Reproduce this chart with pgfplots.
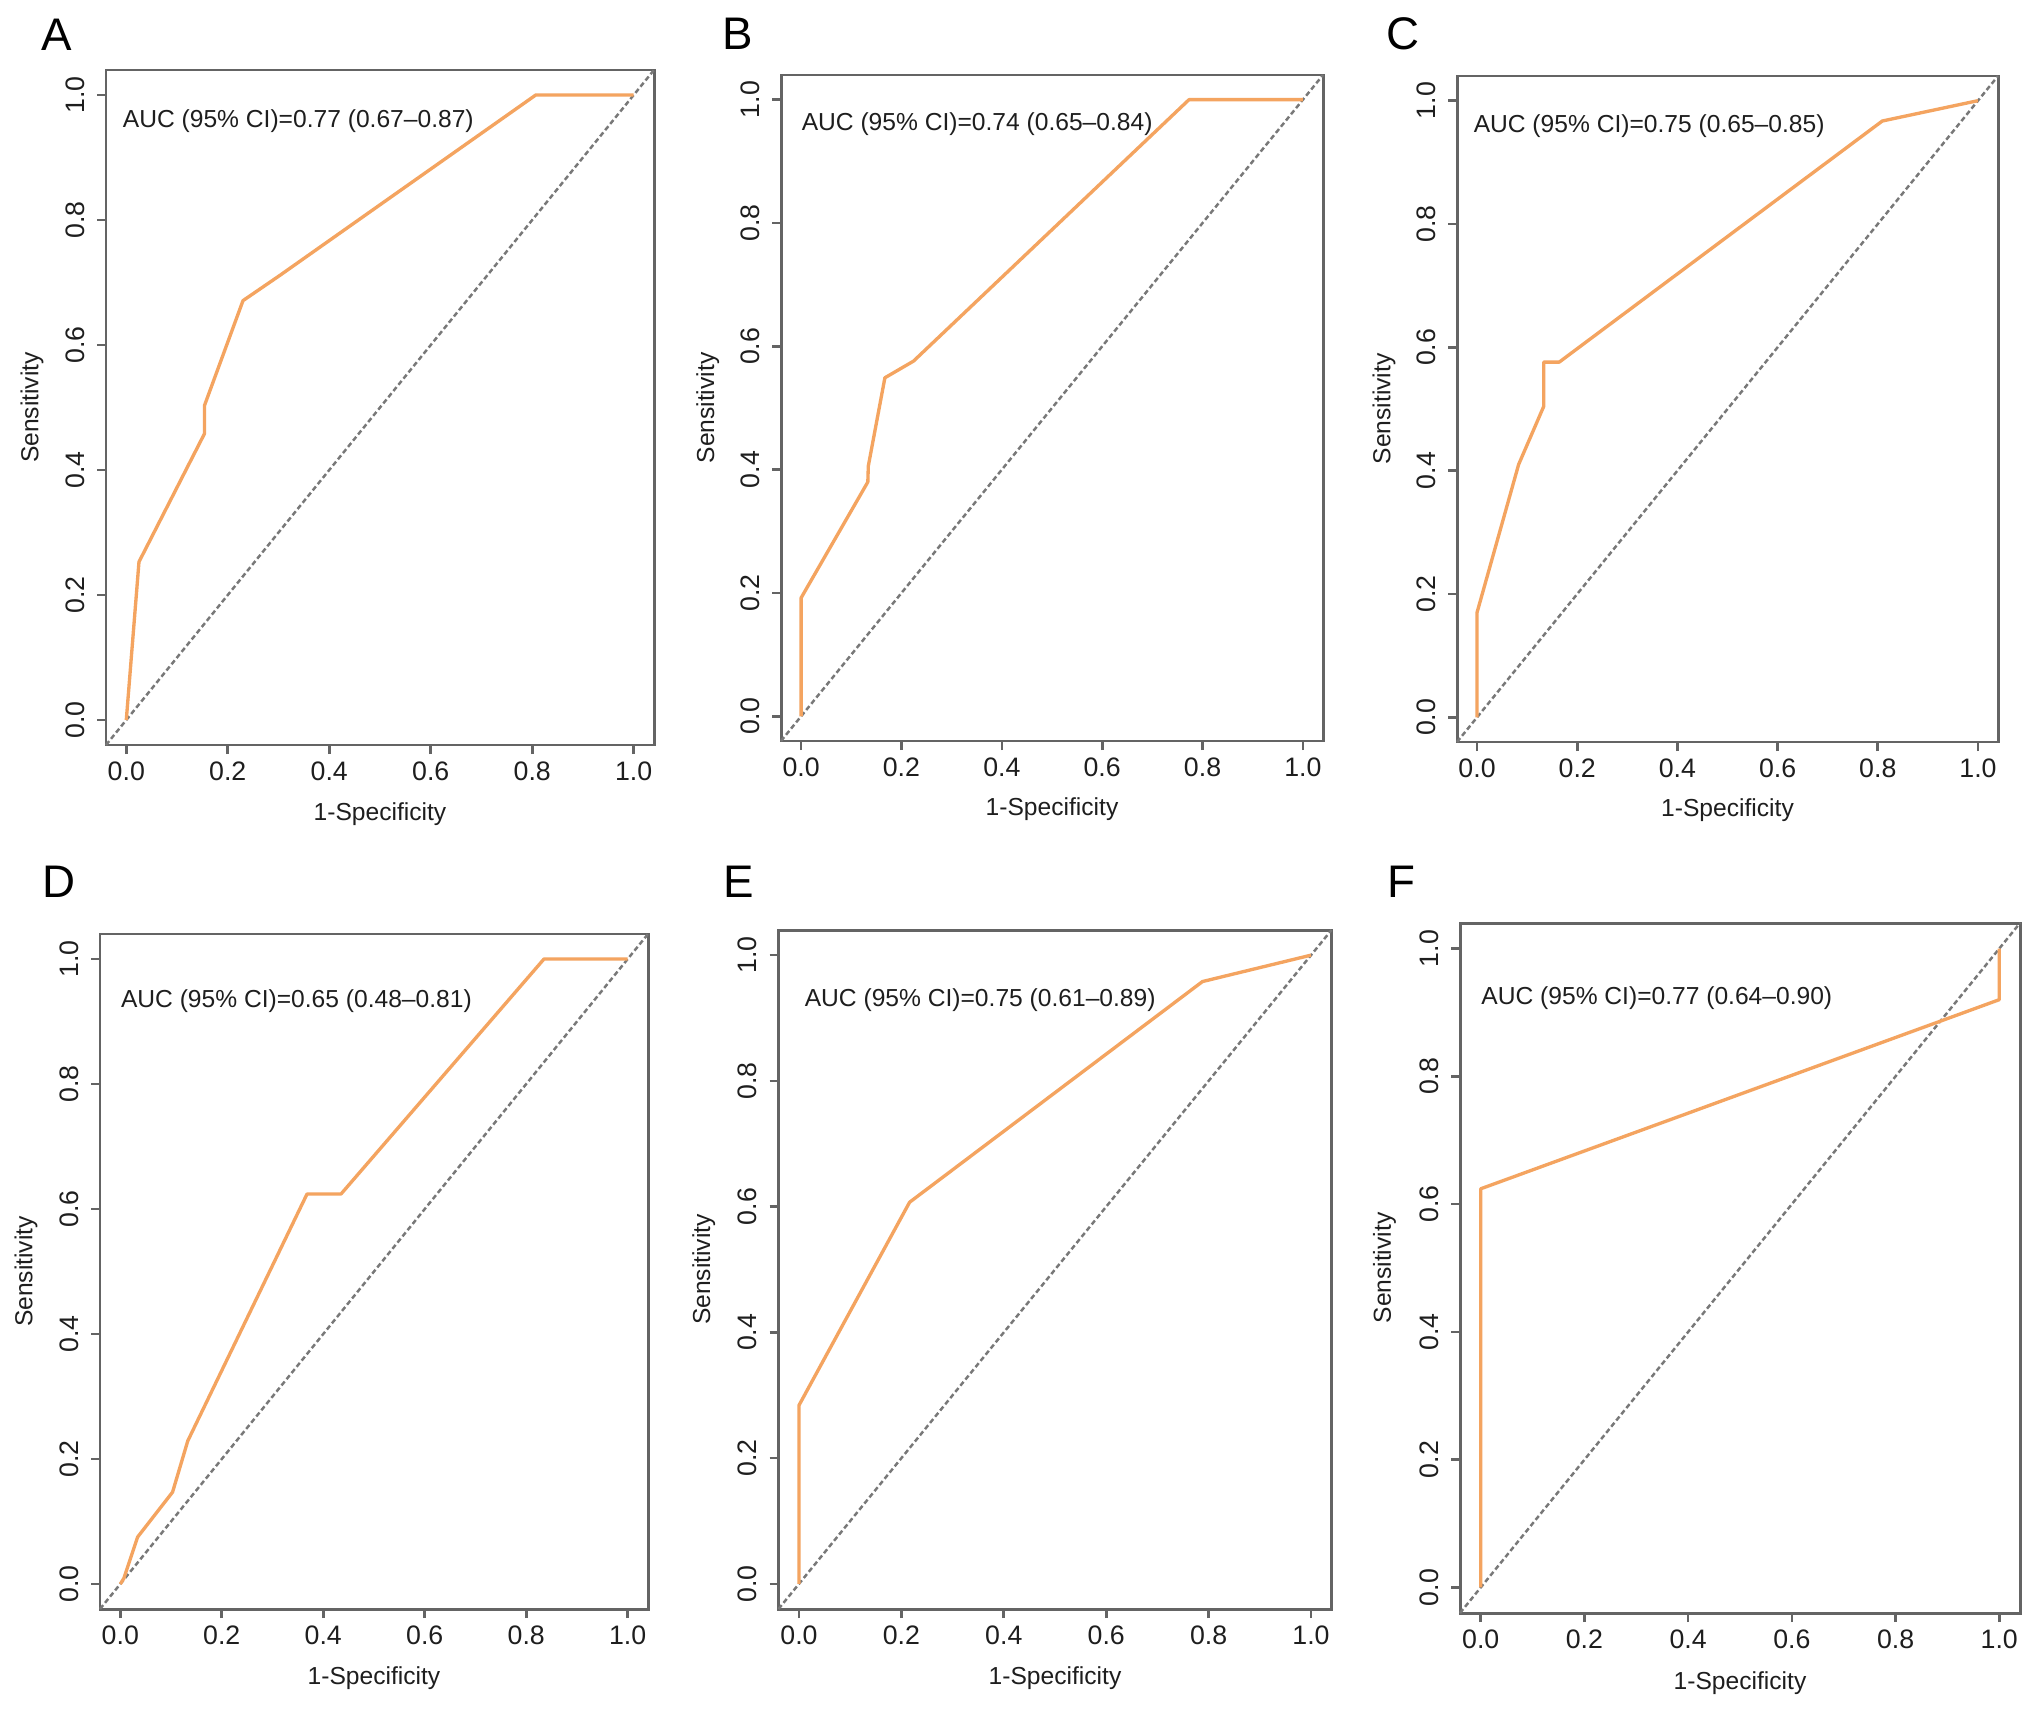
\documentclass[border=0pt]{standalone}
\usepackage{fontspec}
\setmainfont{Liberation Sans}
\usepackage{pgfplots}
\pgfplotsset{compat=1.18}

\definecolor{rocline}{RGB}{244,164,96}
\definecolor{boxgray}{RGB}{100,100,100}
\definecolor{diaggray}{RGB}{120,120,120}
\definecolor{txt}{RGB}{30,30,30}

\pgfplotsset{
  roc/.style={
    scale only axis,
    xmin=-0.04, xmax=1.04, ymin=-0.04, ymax=1.04,
    xtick={0,0.2,0.4,0.6,0.8,1},
    ytick={0,0.2,0.4,0.6,0.8,1},
    tick pos=left,
    tick align=outside,
    major tick length=0.9mm,
    axis line style={boxgray, line width=0.85pt},
    tick style={boxgray, line width=0.75pt},
    scaled ticks=false,
    /pgf/number format/fixed,
    /pgf/number format/fixed zerofill,
    /pgf/number format/precision=1,
    /pgf/number format/assume math mode=true,
    ticklabel style={font=\fontsize{7.6}{8}\selectfont, text=txt},
    xticklabel style={yshift=0.5mm},
    yticklabel style={rotate=90, anchor=south},
    xlabel={1-Specificity},
    ylabel={Sensitivity},
    label style={font=\fontsize{7}{8}\selectfont, text=txt},
    xlabel style={at={(axis description cs:0.5,-0.102)}, anchor=center},
    ylabel style={at={(axis description cs:-0.135,0.5)}, anchor=center},
    clip=false,
  },
  rocc/.style={rocline, line width=0.95pt, line join=round, mark=none},
  diag/.style={diaggray, line width=0.7pt, dash pattern=on 0.5mm off 0.3mm, mark=none},
}

\newcommand{\auc}[3]{\node[anchor=west, inner sep=0pt, text=txt, font=\fontsize{7}{8}\selectfont] at (axis cs:#1,#2) {#3};}
\newcommand{\panel}[3]{\node[font=\fontsize{13}{15}\selectfont, text=black] at (#1,#2) {#3};}

\begin{document}
\begin{tikzpicture}
  \fill[white] (0,0) rectangle (203.2mm,170.8mm);

  % A
  \begin{axis}[roc, at={(10.6mm,96.3mm)}, anchor=south west, width=54.8mm, height=67.5mm]
    \addplot[diag] coordinates {(-0.04,-0.04) (1.04,1.04)};
    \addplot[rocc] coordinates {
      (0,0) (0.025,0.253) (0.154,0.458) (0.154,0.503) (0.230,0.671)
      (0.302,0.711) (0.807,1.0) (1,1)
    };
    \auc{-0.008}{0.958}{AUC (95\% CI)=0.77 (0.67–0.87)}
  \end{axis}

  % B
  \begin{axis}[roc, at={(78.1mm,96.7mm)}, anchor=south west, width=54.2mm, height=66.6mm]
    \addplot[diag] coordinates {(-0.04,-0.04) (1.04,1.04)};
    \addplot[rocc] coordinates {
      (0,0) (0,0.192) (0.133,0.380) (0.134,0.406) (0.167,0.549)
      (0.224,0.576) (0.773,1.0) (1,1)
    };
    \auc{0.0}{0.96}{AUC (95\% CI)=0.74 (0.65–0.84)}
  \end{axis}

  % C
  \begin{axis}[roc, at={(145.7mm,96.6mm)}, anchor=south west, width=54.1mm, height=66.6mm]
    \addplot[diag] coordinates {(-0.04,-0.04) (1.04,1.04)};
    \addplot[rocc] coordinates {
      (0,0) (0,0.170) (0.083,0.410) (0.133,0.504) (0.133,0.576)
      (0.164,0.576) (0.809,0.967) (1,1)
    };
    \auc{-0.008}{0.958}{AUC (95\% CI)=0.75 (0.65–0.85)}
  \end{axis}

  % D
  \begin{axis}[roc, at={(10.0mm,9.9mm)}, anchor=south west, width=54.8mm, height=67.5mm]
    \addplot[diag] coordinates {(-0.04,-0.04) (1.04,1.04)};
    \addplot[rocc] coordinates {
      (0,0) (0.007,0.009) (0.034,0.075) (0.103,0.147) (0.133,0.229)
      (0.368,0.624) (0.435,0.624) (0.835,1.0) (1,1)
    };
    \auc{0.0}{0.932}{AUC (95\% CI)=0.65 (0.48–0.81)}
  \end{axis}

  % E
  \begin{axis}[roc, at={(77.85mm,9.9mm)}, anchor=south west, width=55.3mm, height=67.9mm]
    \addplot[diag] coordinates {(-0.04,-0.04) (1.04,1.04)};
    \addplot[rocc] coordinates {
      (0,0) (0,0.284) (0.216,0.607) (0.788,0.958) (1,1)
    };
    \auc{0.01}{0.928}{AUC (95\% CI)=0.75 (0.61–0.89)}
  \end{axis}

  % F
  \begin{axis}[roc, at={(146.0mm,9.5mm)}, anchor=south west, width=56.0mm, height=69.0mm]
    \addplot[diag] coordinates {(-0.04,-0.04) (1.04,1.04)};
    \addplot[rocc] coordinates {
      (0,0) (0,0.624) (1,0.920) (1,1)
    };
    \auc{0.0}{0.922}{AUC (95\% CI)=0.77 (0.64–0.90)}
  \end{axis}

  \panel{5.7mm}{167.3mm}{A}
  \panel{73.8mm}{167.4mm}{B}
  \panel{140.3mm}{167.4mm}{C}
  \panel{5.9mm}{82.6mm}{D}
  \panel{73.9mm}{82.6mm}{E}
  \panel{140.1mm}{82.6mm}{F}
\end{tikzpicture}
\end{document}
